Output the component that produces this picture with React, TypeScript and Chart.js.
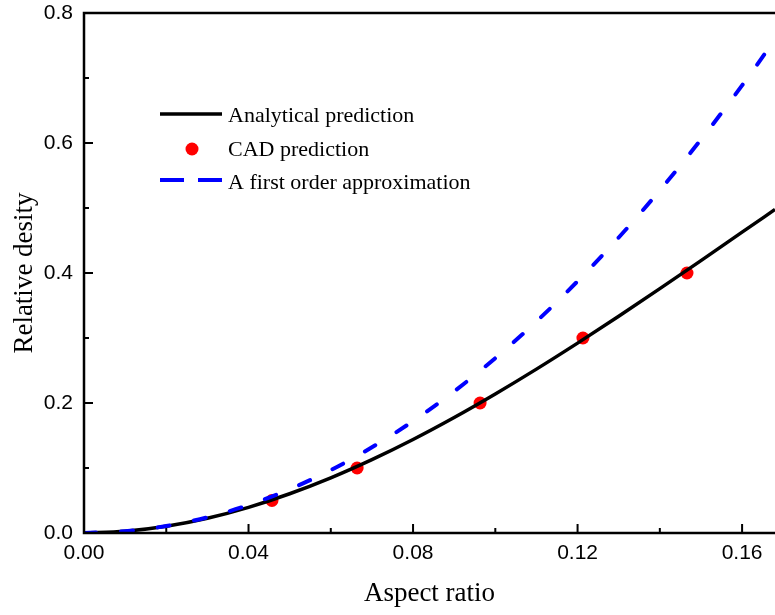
import React, { useEffect, useRef } from "react";
import { Chart, registerables } from "chart.js";

Chart.register(...registerables);

const aspectRatio = [0, 0.01, 0.02, 0.03, 0.04, 0.05, 0.06, 0.07, 0.08, 0.09, 0.1, 0.11, 0.12, 0.13, 0.14, 0.15, 0.16, 0.168];
const analyticalDensity = [0, 0.0026, 0.0103, 0.0227, 0.0395, 0.0604, 0.0849, 0.1129, 0.1439, 0.1777, 0.2139, 0.2521, 0.2921, 0.3335, 0.3759, 0.4191, 0.4628, 0.4977];
const approxDensity = [0, 0.0027, 0.0108, 0.0242, 0.043, 0.0673, 0.0968, 0.1318, 0.1722, 0.2179, 0.269, 0.3255, 0.3874, 0.4546, 0.5272, 0.6053, 0.6886, 0.7592];
const cadAspect = [0.0457, 0.0664, 0.0963, 0.1213, 0.1466];
const cadDensity = [0.05, 0.1, 0.2, 0.3, 0.4];

const xTickValues = [0, 0.04, 0.08, 0.12, 0.16];
const xMinorValues = [0.02, 0.06, 0.1, 0.14];
const yTickValues = [0, 0.2, 0.4, 0.6, 0.8];
const yMinorValues = [0.1, 0.3, 0.5, 0.7];

const legendLabels = ["Analytical prediction", "CAD prediction", "A first order approximation"];

const zeroPadding = (scale: any) => {
  scale.paddingTop = 0;
  scale.paddingBottom = 0;
  scale.paddingLeft = 0;
  scale.paddingRight = 0;
};

const stretchRight = {
  id: "stretchRight",
  afterLayout(chart: any) {
    const area = chart.chartArea;
    const right = chart.width;
    area.right = right;
    area.width = right - area.left;
    const x = chart.scales.x;
    x.right = right;
    x.width = right - x.left;
    x.configure();
    const y = chart.scales.y;
    y.configure();
  },
};

const frameAndLegend = {
  id: "frameAndLegend",
  afterDatasetsDraw(chart: any) {
    const { ctx, chartArea, scales } = chart;
    const { left, right, top, bottom } = chartArea;
    ctx.save();
    ctx.strokeStyle = "#000";
    ctx.lineWidth = 2.5;
    ctx.lineCap = "butt";
    ctx.beginPath();
    ctx.moveTo(left, top);
    ctx.lineTo(left, bottom);
    ctx.lineTo(right, bottom);
    ctx.moveTo(left - 1.25, top);
    ctx.lineTo(right, top);
    ctx.stroke();
    ctx.lineWidth = 2;
    ctx.beginPath();
    xTickValues.forEach((v) => {
      const px = scales.x.getPixelForValue(v);
      ctx.moveTo(px, bottom);
      ctx.lineTo(px, bottom - 9);
    });
    xMinorValues.forEach((v) => {
      const px = scales.x.getPixelForValue(v);
      ctx.moveTo(px, bottom);
      ctx.lineTo(px, bottom - 5);
    });
    yTickValues.forEach((v) => {
      const py = scales.y.getPixelForValue(v);
      ctx.moveTo(left, py);
      ctx.lineTo(left + 9, py);
    });
    yMinorValues.forEach((v) => {
      const py = scales.y.getPixelForValue(v);
      ctx.moveTo(left, py);
      ctx.lineTo(left + 5, py);
    });
    ctx.stroke();

    // legend
    const lx = 160;
    const tx = 228;
    ctx.font = "22px 'Liberation Serif', 'Times New Roman', serif";
    ctx.fillStyle = "#000";
    ctx.textBaseline = "middle";
    ctx.textAlign = "left";
    ctx.strokeStyle = "#000";
    ctx.lineWidth = 3.5;
    ctx.beginPath();
    ctx.moveTo(lx, 114);
    ctx.lineTo(lx + 62, 114);
    ctx.stroke();
    ctx.fillText(legendLabels[0], tx, 116);
    ctx.fillStyle = "#ff0000";
    ctx.beginPath();
    ctx.arc(192, 149, 6.5, 0, Math.PI * 2);
    ctx.fill();
    ctx.fillStyle = "#000";
    ctx.fillText(legendLabels[1], tx, 150);
    ctx.strokeStyle = "#0000ff";
    ctx.lineWidth = 4;
    ctx.beginPath();
    ctx.moveTo(lx, 180);
    ctx.lineTo(lx + 24, 180);
    ctx.moveTo(lx + 38, 180);
    ctx.lineTo(lx + 62, 180);
    ctx.stroke();
    ctx.fillText(legendLabels[2], tx, 183);
    ctx.restore();
  },
};

export default function App() {
  const ref = useRef<HTMLCanvasElement | null>(null);
  useEffect(() => {
    if (!ref.current) return;
    const chart = new Chart(ref.current, {
      type: "line",
      data: {
        datasets: [
          {
            label: legendLabels[2],
            data: aspectRatio.map((x, i) => ({ x, y: approxDensity[i] })),
            borderColor: "#0000ff",
            borderWidth: 4,
            borderDash: [12, 25],
            borderCapStyle: "round",
            pointRadius: 0,
            cubicInterpolationMode: "monotone",
            fill: false,
          },
          {
            label: legendLabels[0],
            data: aspectRatio.map((x, i) => ({ x, y: analyticalDensity[i] })),
            borderColor: "#000000",
            borderWidth: 3.5,
            pointRadius: 0,
            cubicInterpolationMode: "monotone",
            fill: false,
          },
          {
            label: legendLabels[1],
            data: cadAspect.map((x, i) => ({ x, y: cadDensity[i] })),
            showLine: false,
            pointRadius: 6.5,
            pointBackgroundColor: "#ff0000",
            pointBorderColor: "#ff0000",
            pointBorderWidth: 0,
          },
        ],
      },
      options: {
        responsive: false,
        animation: false,
        layout: { padding: { top: 13, right: 0, left: 0, bottom: 0 } },
        plugins: { legend: { display: false }, tooltip: { enabled: false } },
        scales: {
          x: {
            type: "linear",
            min: 0,
            max: 0.168,
            afterBuildTicks: (scale: any) => {
              scale.ticks = xTickValues.map((v) => ({ value: v }));
            },
            afterFit: (scale: any) => {
              scale.height = 82;
              zeroPadding(scale);
            },
            grid: { display: false, drawTicks: false },
            border: { display: false },
            ticks: {
              padding: 8,
              color: "#000",
              font: { family: "'Liberation Sans', Arial, sans-serif", size: 21 },
              callback: (v: any) => Number(v).toFixed(2),
              maxRotation: 0,
            },
            title: {
              display: true,
              text: "Aspect ratio",
              color: "#000",
              font: { family: "'Liberation Serif', 'Times New Roman', serif", size: 27 },
              padding: { top: 0, bottom: 5 },
            },
          },
          y: {
            type: "linear",
            min: 0,
            max: 0.8,
            afterBuildTicks: (scale: any) => {
              scale.ticks = yTickValues.map((v) => ({ value: v }));
            },
            afterFit: (scale: any) => {
              scale.width = 84;
              zeroPadding(scale);
            },
            grid: { display: false, drawTicks: false },
            border: { display: false },
            ticks: {
              padding: 11,
              color: "#000",
              font: { family: "'Liberation Sans', Arial, sans-serif", size: 21 },
              callback: (v: any) => Number(v).toFixed(1),
            },
            title: {
              display: true,
              text: "Relative desity",
              color: "#000",
              font: { family: "'Liberation Serif', 'Times New Roman', serif", size: 27 },
              padding: { top: 9, bottom: 0 },
            },
          },
        },
      },
      plugins: [stretchRight, frameAndLegend],
    });
    return () => chart.destroy();
  }, []);
  return (
    <div style={{ position: "absolute", left: 0, top: 0, width: 775, height: 615, background: "#fff" }}>
      <canvas ref={ref} width={775} height={615} style={{ display: "block" }} />
    </div>
  );
}
